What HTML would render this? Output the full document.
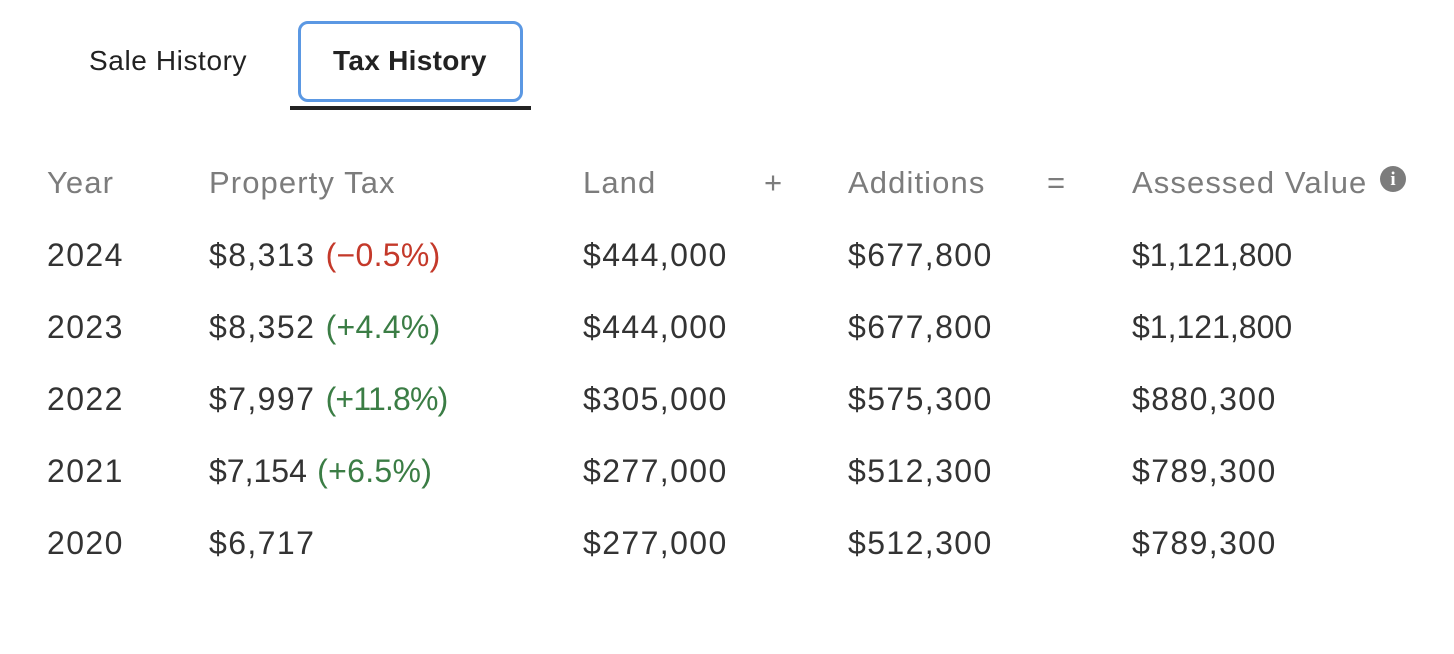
<!DOCTYPE html>
<html><head><meta charset="utf-8"><style>
body{margin:0;width:1454px;height:654px;background:#fff;position:relative;overflow:hidden;font-family:"Liberation Sans",sans-serif;}
.t{position:absolute;white-space:nowrap;line-height:40px;}
.h{color:#7c7c7c;font-size:31px;letter-spacing:1.1px;}
.r{color:#333;font-size:32px;letter-spacing:1.4px;}
.red{color:#c4392a;letter-spacing:0.3px}.grn{color:#3b7d45;letter-spacing:0.3px}
.n{letter-spacing:0}
</style></head><body>
<div class="t" style="left:89px;top:41px;font-size:28px;color:#222;letter-spacing:0.6px">Sale History</div>
<div style="position:absolute;left:298px;top:21px;width:219px;height:75px;border:3px solid #5b98e3;border-radius:10px"></div>
<div class="t" style="left:333px;top:41px;font-size:28px;color:#222;font-weight:bold;letter-spacing:0.3px">Tax History</div>
<div style="position:absolute;left:290px;top:106px;width:241px;height:4px;background:#222"></div>

<div class="t h" style="left:47px;top:163px">Year</div>
<div class="t h" style="left:209px;top:163px">Property Tax</div>
<div class="t h" style="left:583px;top:163px">Land</div>
<div class="t h" style="left:764px;top:163px">+</div>
<div class="t h" style="left:848px;top:163px">Additions</div>
<div class="t h" style="left:1047px;top:163px">=</div>
<div class="t h" style="left:1132px;top:163px">Assessed Value</div>
<div style="position:absolute;left:1380px;top:166px;width:26px;height:26px;border-radius:50%;background:#7c7c7c;color:#fff;font:bold 19px 'Liberation Serif',serif;text-align:center;line-height:27px">i</div>

<div class="t r" style="left:47px;top:235px">2024</div>
<div class="t r" style="left:209px;top:235px">$8,313 <span class="red">(−0.5%)</span></div>
<div class="t r" style="left:583px;top:235px">$444,000</div>
<div class="t r" style="left:848px;top:235px">$677,800</div>
<div class="t r n" style="left:1132px;top:235px">$1,121,800</div>

<div class="t r" style="left:47px;top:307px">2023</div>
<div class="t r" style="left:209px;top:307px">$8,352 <span class="grn">(+4.4%)</span></div>
<div class="t r" style="left:583px;top:307px">$444,000</div>
<div class="t r" style="left:848px;top:307px">$677,800</div>
<div class="t r n" style="left:1132px;top:307px">$1,121,800</div>

<div class="t r" style="left:47px;top:379px">2022</div>
<div class="t r" style="left:209px;top:379px">$7,997 <span class="grn" style="letter-spacing:-0.8px">(+11.8%)</span></div>
<div class="t r" style="left:583px;top:379px">$305,000</div>
<div class="t r" style="left:848px;top:379px">$575,300</div>
<div class="t r" style="left:1132px;top:379px">$880,300</div>

<div class="t r" style="left:47px;top:451px">2021</div>
<div class="t r" style="left:209px;top:451px"><span class="n">$7,154</span> <span class="grn">(+6.5%)</span></div>
<div class="t r" style="left:583px;top:451px">$277,000</div>
<div class="t r" style="left:848px;top:451px">$512,300</div>
<div class="t r" style="left:1132px;top:451px">$789,300</div>

<div class="t r" style="left:47px;top:523px">2020</div>
<div class="t r" style="left:209px;top:523px">$6,717</div>
<div class="t r" style="left:583px;top:523px">$277,000</div>
<div class="t r" style="left:848px;top:523px">$512,300</div>
<div class="t r" style="left:1132px;top:523px">$789,300</div>
</body></html>
